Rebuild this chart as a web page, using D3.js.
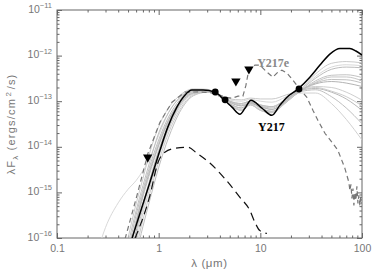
<!DOCTYPE html>
<html>
<head>
<meta charset="utf-8">
<script src="https://cdn.jsdelivr.net/npm/d3@7"></script>
<style>
body { margin: 0; background: #fff; }
svg text { font-family: "Liberation Sans", Arial, sans-serif; }
svg text.tag { font-family: "Liberation Serif", "Times New Roman", serif; font-weight: bold; }
</style>
</head>
<body>
<div id="chart"></div>
<script>
// wavelength grid (micron) of the grey model SEDs
var modelLam = [0.25, 0.3, 0.4, 0.5, 0.6, 0.7, 0.8, 1.0, 1.25, 1.6, 2.2, 3, 4, 5, 6.5, 8, 10, 13, 18, 24, 35, 50, 70, 100];

// lambda F_lambda (ergs/cm^2/s) of each grey model on modelLam
var model1 = [null, 3.2e-19, 1e-17, 1e-16, 5.6e-16, 2.0e-15, 6.3e-15, 2.8e-14, 7.1e-14, 1.32e-13, 1.86e-13, 1.82e-13, 1.38e-13, 1.12e-13, 1.07e-13, 1.17e-13, 1.12e-13, 1.12e-13, 1.38e-13, 1.74e-13, 3.98e-13, 6.76e-13, 7.41e-13, 6.92e-13];
var model2 = [null, 1e-19, 4e-18, 5e-17, 3.2e-16, 1.12e-15, 3.2e-15, 1.41e-14, 4.5e-14, 1.05e-13, 1.74e-13, 1.74e-13, 1.32e-13, 1.0e-13, 8.9e-14, 1.0e-13, 8.3e-14, 7.6e-14, 1.12e-13, 1.66e-13, 3.2e-13, 5.0e-13, 5.6e-13, 5.4e-13];
var model3 = [null, 3.2e-20, 2.0e-18, 3.2e-17, 2.0e-16, 7.9e-16, 2.2e-15, 1.05e-14, 3.5e-14, 8.9e-14, 1.58e-13, 1.66e-13, 1.26e-13, 8.9e-14, 7.1e-14, 9.5e-14, 7.1e-14, 6.0e-14, 1.0e-13, 1.58e-13, 2.8e-13, 3.7e-13, 3.8e-13, 3.3e-13];
var model4 = [null, 1e-20, 1e-18, 2.0e-17, 1.41e-16, 5.6e-16, 1.58e-15, 8.3e-15, 3.0e-14, 8.3e-14, 1.51e-13, 1.58e-13, 1.26e-13, 8.3e-14, 6.3e-14, 8.3e-14, 6.3e-14, 5.6e-14, 9.5e-14, 1.58e-13, 2.4e-13, 2.7e-13, 2.5e-13, 2.1e-13];
var model5 = [null, 3.2e-21, 4e-19, 1e-17, 7.9e-17, 3.5e-16, 1.05e-15, 6.0e-15, 2.4e-14, 7.2e-14, 1.45e-13, 1.62e-13, 1.32e-13, 9.5e-14, 7.9e-14, 8.9e-14, 7.6e-14, 6.6e-14, 1.05e-13, 1.74e-13, 2.1e-13, 2.0e-13, 1.58e-13, 1.05e-13];
var model6 = [null, 1e-21, 1.58e-19, 4e-18, 4e-17, 1.78e-16, 5.6e-16, 3.5e-15, 1.58e-14, 5.6e-14, 1.32e-13, 1.58e-13, 1.32e-13, 8.9e-14, 7.1e-14, 9.5e-14, 7.1e-14, 6.0e-14, 1.0e-13, 1.58e-13, 1.78e-13, 1.26e-13, 7.1e-14, 3.2e-14];
var model7 = [null, 6.3e-20, 3.2e-18, 4e-17, 2.5e-16, 1.0e-15, 2.8e-15, 1.26e-14, 4e-14, 9.5e-14, 1.58e-13, 1.66e-13, 1.26e-13, 8.3e-14, 6.3e-14, 8.3e-14, 6.3e-14, 5.6e-14, 9.5e-14, 1.51e-13, 1.51e-13, 8.9e-14, 4e-14, 1.41e-14];
var model8 = [null, 4e-20, 2.5e-18, 3.5e-17, 2.2e-16, 8.9e-16, 2.5e-15, 1.12e-14, 3.8e-14, 9.3e-14, 1.66e-13, 1.7e-13, 1.29e-13, 9.5e-14, 7.9e-14, 8.9e-14, 7.6e-14, 6.6e-14, 1.05e-13, 1.7e-13, 1.9e-13, 1.58e-13, 1.12e-13, 6.3e-14];
var model9 = [null, 6.3e-21, 6.3e-19, 1.58e-17, 1.12e-16, 4.5e-16, 1.32e-15, 7.1e-15, 2.7e-14, 7.9e-14, 1.48e-13, 1.58e-13, 1.26e-13, 1.0e-13, 8.9e-14, 1.0e-13, 8.3e-14, 7.6e-14, 1.12e-13, 1.62e-13, 2.6e-13, 3.4e-13, 3.4e-13, 2.8e-13];
var model10 = [5e-17, 1.7e-16, 5.9e-16, 1.17e-15, 1.82e-15, 3.0e-15, 5.0e-15, 1.78e-14, 5.6e-14, 1.2e-13, 1.74e-13, 1.66e-13, 1.26e-13, 1.05e-13, 1.0e-13, 1.1e-13, 1.0e-13, 9.5e-14, 1.26e-13, 1.7e-13, 3.5e-13, 5.6e-13, 6.3e-13, 6.0e-13];
var model11 = [null, 2.0e-19, 6.3e-18, 7.1e-17, 4.0e-16, 1.41e-15, 4.0e-15, 2.0e-14, 5.6e-14, 1.17e-13, 1.78e-13, 1.74e-13, 1.32e-13, 1.0e-13, 8.3e-14, 9.5e-14, 7.9e-14, 7.1e-14, 1.1e-13, 1.66e-13, 2.5e-13, 3.0e-13, 2.95e-13, 2.5e-13];
var model12 = [null, 1.58e-21, 2.5e-19, 6.3e-18, 5.6e-17, 2.5e-16, 7.9e-16, 4.7e-15, 2.0e-14, 6.3e-14, 1.38e-13, 1.58e-13, 1.29e-13, 8.7e-14, 6.6e-14, 8.7e-14, 6.6e-14, 5.8e-14, 9.5e-14, 1.58e-13, 2.0e-13, 1.66e-13, 1.26e-13, 7.9e-14];
var models = [model1, model2, model3, model4, model5, model6, model7, model8, model9, model10, model11, model12];
var modelGrey = ["#c4c4c4", "#b4b4b4", "#bcbcbc", "#aaaaaa", "#c8c8c8", "#b8b8b8", "#cccccc", "#b0b0b0", "#c0c0c0", "#d4d4d4", "#bababa", "#c6c6c6"];

// best-fit model of Y217 (black solid)
var fitLam = [0.54, 0.655, 0.82, 1.03, 1.23, 1.51, 1.81, 2.12, 2.73, 3.58, 4.49, 5.26, 6.3, 7.06, 8.09, 10.4, 13.0, 15.6, 18.3, 23.4, 30.7, 38.6, 48.3, 60.7, 76, 87.1, 100];
var fitF = [9e-17, 3.5e-16, 1.66e-15, 8.4e-15, 2.7e-14, 7.4e-14, 1.35e-13, 1.75e-13, 1.75e-13, 1.58e-13, 1.02e-13, 7.4e-14, 5.2e-14, 7.0e-14, 1.05e-13, 7.0e-14, 4.9e-14, 8.2e-14, 1.22e-13, 1.84e-13, 3.37e-13, 6.2e-13, 1.08e-12, 1.43e-12, 1.43e-12, 1.26e-12, 1.03e-12];

// stellar photosphere (black dashed)
var photLam = [0.585, 0.82, 0.98, 1.15, 1.45, 1.94, 2.38, 3.19, 4.48, 6.3, 7.9, 8.85, 9.9, 11.6];
var photF = [9.8e-17, 8.5e-16, 4.4e-15, 7.6e-15, 9.3e-15, 9.8e-15, 7.2e-15, 4.4e-15, 2.0e-15, 7.8e-16, 4.0e-16, 2.2e-16, 1.45e-16, 1.26e-16];

// Y217e (grey dashed)
var eLam = [0.467, 0.612, 0.785, 1.03, 1.35, 1.81, 2.55, 3.58, 4.49, 5.26, 6.03, 6.74, 7.22, 7.72, 8.85, 9.9, 11.6, 13.3, 14.9, 16.3, 18.3, 20.9, 24.0, 28.7, 32.9, 36.8, 43.2, 51.7, 57.9, 67.9, 74.3, 76.0, 77.8, 79.6, 81.5, 83.2, 85.2, 87.1, 89.1, 91.2, 93.1, 95.3, 97.5];
var eF = [9.5e-17, 8.6e-16, 7.2e-15, 3.45e-14, 9.5e-14, 1.58e-13, 1.6e-13, 1.5e-13, 1.22e-13, 1.16e-13, 1.29e-13, 1.29e-13, 2.25e-13, 5.05e-13, 6.2e-13, 6.2e-13, 4.34e-13, 3.37e-13, 4.34e-13, 4.8e-13, 4.12e-13, 2.9e-13, 1.93e-13, 1.22e-13, 6.3e-14, 3.82e-14, 1.98e-14, 1.19e-14, 8.4e-15, 3.37e-15, 1.66e-15, 1.1e-15, 1.5e-15, 7.4e-16, 1.22e-15, 5.2e-16, 1.0e-15, 6.7e-16, 1.36e-15, 5.7e-16, 8.6e-16, 5.2e-16, 8.2e-16];

// photometry: detections and upper limits
var detLam = [3.6, 4.5, 24];
var detF = [1.59e-13, 1.07e-13, 1.85e-13];
var limLam = [0.78, 5.75, 7.72];
var limF = [5.9e-15, 2.75e-13, 5.05e-13];

var xMajor = [0.1, 1, 10, 100];
var xLabels = ["0.1", "1", "10", "100"];
var yMajor = [1e-16, 1e-15, 1e-14, 1e-13, 1e-12, 1e-11];
var yExp = ["\u221216", "\u221215", "\u221214", "\u221213", "\u221212", "\u221211"];

var width = 374, height = 270;
var margin = {top: 10, right: 12, bottom: 32, left: 57};

var svg = d3.select("#chart").append("svg")
    .attr("width", width)
    .attr("height", height);

var x = d3.scaleLog().domain([0.1, 100]).range([margin.left, width - margin.right]);
var y = d3.scaleLog().domain([1e-16, 1e-11]).range([height - margin.bottom, margin.top]);

var x0 = margin.left, x1 = width - margin.right;
var y0 = height - margin.bottom, y1 = margin.top;

// minor ticks 2..9 in every decade
var xMinor = [], yMinor = [];
xMajor.slice(0, -1).forEach(function(d) { for (var k = 2; k < 10; k++) xMinor.push(d * k); });
yMajor.slice(0, -1).forEach(function(d) { for (var k = 2; k < 10; k++) yMinor.push(d * k); });

var axisColor = "#666";

function drawAxis(axis, tx, ty) {
    var g = svg.append("g")
        .attr("transform", "translate(" + tx + "," + ty + ")")
        .call(axis);
    g.select(".domain").remove();
    g.selectAll("line").attr("stroke", axisColor);
    g.selectAll("text").attr("fill", "#777").attr("font-size", 10.5);
    return g;
}

drawAxis(d3.axisBottom(x).tickValues(xMinor).tickSize(-2.5).tickFormat(""), 0, y0);
drawAxis(d3.axisBottom(x).tickValues(xMajor).tickSize(-5).tickPadding(7)
    .tickFormat(function(d, i) { return xLabels[i]; }), 0, y0);
drawAxis(d3.axisTop(x).tickValues(xMinor).tickSize(-2.5).tickFormat(""), 0, y1);
drawAxis(d3.axisTop(x).tickValues(xMajor).tickSize(-5).tickFormat(""), 0, y1);
drawAxis(d3.axisLeft(y).tickValues(yMinor).tickSize(-2.5).tickFormat(""), x0, 0);
drawAxis(d3.axisLeft(y).tickValues(yMajor).tickSize(-5).tickFormat(""), x0, 0);
drawAxis(d3.axisRight(y).tickValues(yMinor).tickSize(-2.5).tickFormat(""), x1, 0);
drawAxis(d3.axisRight(y).tickValues(yMajor).tickSize(-5).tickFormat(""), x1, 0);

svg.append("rect")
    .attr("x", x0).attr("y", y1)
    .attr("width", x1 - x0).attr("height", y0 - y1)
    .attr("fill", "none")
    .attr("stroke", axisColor)
    .attr("stroke-width", 1);

// y tick labels 10^n
var ylab = svg.append("g").attr("fill", "#777");
yMajor.forEach(function(d, i) {
    var t = ylab.append("text")
        .attr("x", 52)
        .attr("y", y(d) + 2.5)
        .attr("text-anchor", "end")
        .attr("font-size", 10.5);
    t.append("tspan").text("10");
    t.append("tspan").attr("dy", -4.5).attr("font-size", 7.5).text(yExp[i]);
});

// axis titles
svg.append("text")
    .attr("x", (x0 + x1) / 2)
    .attr("y", 267)
    .attr("text-anchor", "middle")
    .attr("fill", "#777")
    .attr("font-size", 11.5)
    .attr("letter-spacing", 0.6)
    .text("\u03bb (\u03bcm)");

var yt = svg.append("text")
    .attr("transform", "translate(15," + ((y0 + y1) / 2) + ") rotate(-90)")
    .attr("text-anchor", "middle")
    .attr("fill", "#777")
    .attr("font-size", 11)
    .attr("letter-spacing", 1.2);
yt.append("tspan").text("\u03bbF");
yt.append("tspan").attr("dy", 3).attr("font-size", 8).text("\u03bb");
yt.append("tspan").attr("dy", -3).text(" (ergs/cm");
yt.append("tspan").attr("dy", -4.5).attr("dx", 1.5).attr("font-size", 8).text("2");
yt.append("tspan").attr("dy", 4.5).attr("dx", 1.5).text("/s)");

// plot area
svg.append("clipPath").attr("id", "clip")
    .append("rect")
    .attr("x", x0).attr("y", y1)
    .attr("width", x1 - x0).attr("height", y0 - y1);

var plot = svg.append("g").attr("clip-path", "url(#clip)");

function pairs(lam, f) {
    return lam.map(function(l, i) { return {lam: l, f: f[i]}; });
}

var line = d3.line()
    .defined(function(d) { return d.f != null; })
    .x(function(d) { return x(d.lam); })
    .y(function(d) { return y(d.f); })
    .curve(d3.curveMonotoneX);

var straight = d3.line()
    .x(function(d) { return x(d.lam); })
    .y(function(d) { return y(d.f); });

plot.selectAll(".model")
    .data(models)
    .join("path")
    .attr("class", "model")
    .attr("d", function(m) { return line(pairs(modelLam, m)); })
    .attr("fill", "none")
    .attr("stroke", function(m, i) { return modelGrey[i]; })
    .attr("stroke-width", 0.9);

plot.append("path")
    .attr("d", line(pairs(photLam, photF)))
    .attr("fill", "none")
    .attr("stroke", "#111")
    .attr("stroke-width", 1.2)
    .attr("stroke-dasharray", "8,5");

plot.append("path")
    .attr("d", straight(pairs(eLam, eF)))
    .attr("fill", "none")
    .attr("stroke", "#777")
    .attr("stroke-width", 1.2)
    .attr("stroke-dasharray", "5,3.5");

plot.append("path")
    .attr("d", line(pairs(fitLam, fitF)))
    .attr("fill", "none")
    .attr("stroke", "#000")
    .attr("stroke-width", 1.5);

plot.selectAll(".det")
    .data(pairs(detLam, detF))
    .join("circle")
    .attr("class", "det")
    .attr("cx", function(d) { return x(d.lam); })
    .attr("cy", function(d) { return y(d.f); })
    .attr("r", 3.4)
    .attr("fill", "#000");

var tri = d3.symbol().type(d3.symbolTriangle).size(38);
plot.selectAll(".lim")
    .data(pairs(limLam, limF))
    .join("path")
    .attr("class", "lim")
    .attr("d", tri)
    .attr("transform", function(d) { return "translate(" + x(d.lam) + "," + y(d.f) + ") rotate(180)"; })
    .attr("fill", "#000");

svg.append("text")
    .attr("class", "tag")
    .attr("x", x(9.3)).attr("y", y(5.6e-13))
    .attr("font-size", 12)
    .attr("fill", "#888")
    .text("Y217e");

svg.append("text")
    .attr("class", "tag")
    .attr("x", x(9.5)).attr("y", y(2.2e-14))
    .attr("font-size", 12)
    .attr("fill", "#000")
    .text("Y217");
</script>
</body>
</html>
